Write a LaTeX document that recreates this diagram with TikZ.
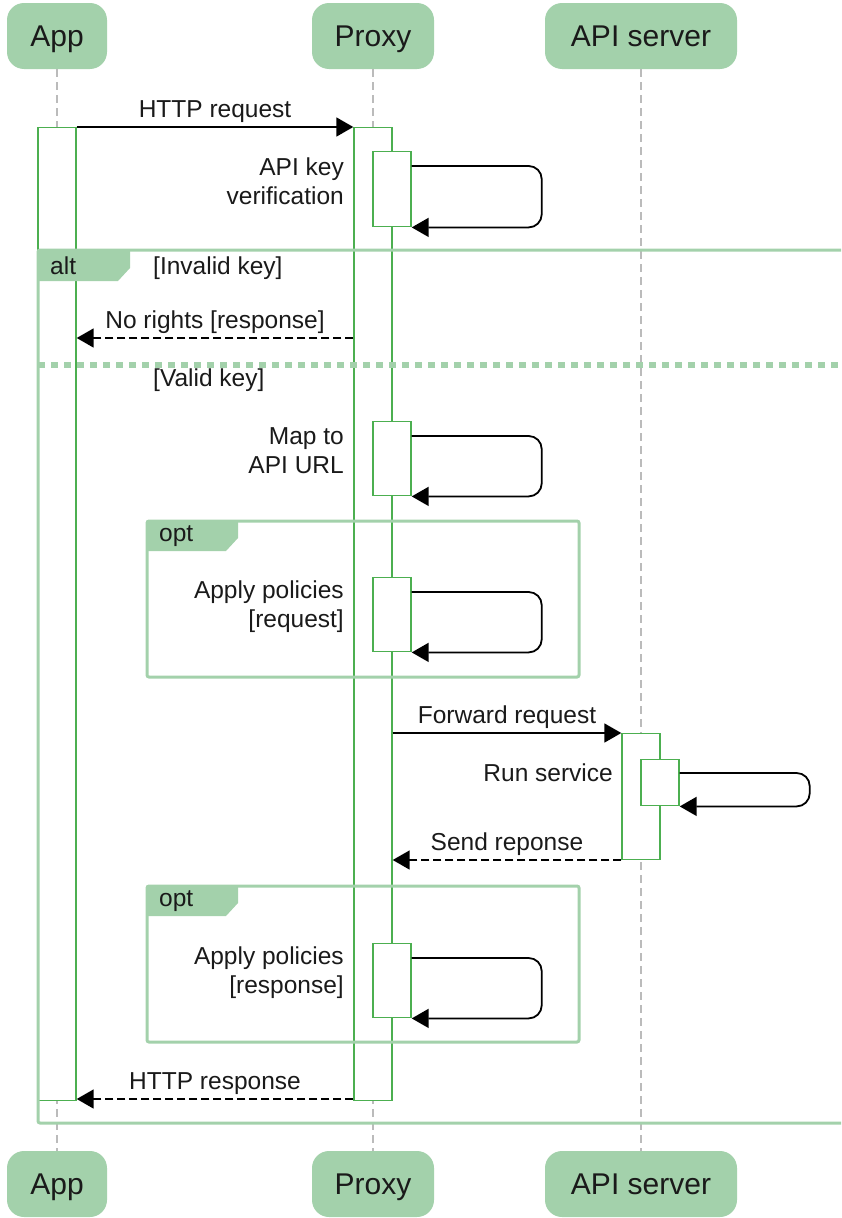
\documentclass[tikz,border=0pt]{standalone}
\usepackage{fontspec}
\setmainfont{Liberation Sans}
\usetikzlibrary{arrows.meta}

\definecolor{partfill}{HTML}{A3D1AB}
\definecolor{framecol}{HTML}{A3D1AB}
\definecolor{actcol}{HTML}{4CAF50}
\definecolor{lifecol}{HTML}{BBBBBB}
\definecolor{txt}{HTML}{1A1A1A}

\begin{document}
\begin{tikzpicture}[x=1pt,y=-1pt,
  part/.style={rectangle, rounded corners=17pt, fill=partfill, text=txt,
    minimum height=66pt, inner sep=0pt, text height=24pt, text depth=3pt,
    font=\fontsize{30}{36}\selectfont},
  lifeline/.style={draw=lifecol, line width=1.5pt, dash pattern=on 8pt off 5pt},
  act/.style={rectangle, draw=actcol, fill=white, line width=1.4pt,
    minimum width=38pt, inner sep=0pt, anchor=north},
  msg/.style={draw=black, line width=1.8pt, -{Triangle[length=17pt,width=19pt]}},
  reply/.style={msg, dash pattern=on 8pt off 4pt},
  selfmsg/.style={draw=black, line width=1.8pt, rounded corners=13pt,
    -{Triangle[length=17pt,width=19pt]}},
  lbl/.style={text=txt, font=\fontsize{24.5}{29}\selectfont, inner sep=0pt},
  frame/.style={draw=framecol, line width=3pt, rounded corners=2pt},
  tab/.style={fill=framecol},
  sep/.style={draw=framecol, line width=6pt, dash pattern=on 7pt off 6pt},
]
\useasboundingbox (0,0) rectangle (841,1218);
\clip (0,0) rectangle (841,1218);

% participants, top and bottom
\node[part, minimum width=100pt] (appT)   at (57,36)  {App};
\node[part, minimum width=122pt] (proxyT) at (373,36) {Proxy};
\node[part, minimum width=192pt] (apiT)   at (641,36) {API server};
\node[part, minimum width=100pt] (appB)   at (57,1184)  {App};
\node[part, minimum width=122pt] (proxyB) at (373,1184) {Proxy};
\node[part, minimum width=192pt] (apiB)   at (641,1184) {API server};

% lifelines
\draw[lifeline] (appT.south) -- (appB.north);
\draw[lifeline] (proxyT.south) -- (proxyB.north);
\draw[lifeline] (apiT.south) -- (apiB.north);

% activation bars
\node[act, minimum height=973pt] (appAct)   at (57,127) {};
\node[act, minimum height=973pt] (proxyAct) at (373,127) {};
\node[act, minimum height=75pt]  (keyAct)   at (392,151) {};
\node[act, minimum height=74pt]  (mapAct)   at (392,421) {};
\node[act, minimum height=74pt]  (polReqAct) at (392,577) {};
\node[act, minimum height=74pt]  (polResAct) at (392,943) {};
\node[act, minimum height=126pt] (apiAct)   at (641,733) {};
\node[act, minimum height=46pt]  (runAct)   at (660,759) {};

% combined fragments
\draw[frame] (38,250) rectangle (880,1123);
\fill[tab] (38,250) -- (130,250) -- (130,268) -- (118,281) -- (38,281) -- cycle;
\node[lbl, anchor=west] (altTag) at (50,266) {alt};
\node[lbl, anchor=west] (guardInvalid) at (153,268) {[Invalid key]};
\draw[sep] (38,365) -- (841,365);
\node[lbl, anchor=west] (guardValid) at (153,380) {[Valid key]};

\draw[frame] (147,521) rectangle (579,677);
\fill[tab] (147,521) -- (238,521) -- (238,538) -- (226,551) -- (147,551) -- cycle;
\node[lbl, anchor=west] (optTagA) at (159,536) {opt};

\draw[frame] (147,886) rectangle (579,1042);
\fill[tab] (147,886) -- (238,886) -- (238,903) -- (226,916) -- (147,916) -- cycle;
\node[lbl, anchor=west] (optTagB) at (159,901) {opt};

% messages
\coordinate (noRightsY) at (0,338);
\coordinate (forwardY) at (0,733);
\coordinate (sendY) at (0,860);
\coordinate (respY) at (0,1099);

\draw[msg] (appAct.north east) -- (proxyAct.north west)
  node[lbl, midway, above=4pt] {HTTP request};

\draw[selfmsg] ([yshift=-15pt]keyAct.north east) -| ([xshift=130pt]keyAct.south east) -- (keyAct.south east);
\node[lbl, align=right, anchor=east] (keyLbl) at (344,181) {API key\\verification};

\draw[reply] (proxyAct.west |- noRightsY) -- (appAct.east |- noRightsY)
  node[lbl, midway, above=4pt] {No rights [response]};

\draw[selfmsg] ([yshift=-15pt]mapAct.north east) -| ([xshift=130pt]mapAct.south east) -- (mapAct.south east);
\node[lbl, align=right, anchor=east] (mapLbl) at (344,451) {Map to\\API URL};

\draw[selfmsg] ([yshift=-15pt]polReqAct.north east) -| ([xshift=130pt]polReqAct.south east) -- (polReqAct.south east);
\node[lbl, align=right, anchor=east] (polReqLbl) at (344,607) {Apply policies\\{[request]}};

\draw[msg] (proxyAct.east |- forwardY) -- (apiAct.north west)
  node[lbl, midway, above=4pt] {Forward request};

\draw[selfmsg] ([yshift=-14pt]runAct.north east) -| ([xshift=130pt]runAct.south east) -- (runAct.south east);
\node[lbl, anchor=east] (runLbl) at (613,773) {Run service};

\draw[reply] (apiAct.west |- sendY) -- (proxyAct.east |- sendY)
  node[lbl, midway, above=4pt] {Send reponse};

\draw[selfmsg] ([yshift=-15pt]polResAct.north east) -| ([xshift=130pt]polResAct.south east) -- (polResAct.south east);
\node[lbl, align=right, anchor=east] (polResLbl) at (344,973) {Apply policies\\{[response]}};

\draw[reply] (proxyAct.west |- respY) -- (appAct.east |- respY)
  node[lbl, midway, above=4pt] {HTTP response};

\end{tikzpicture}
\end{document}
